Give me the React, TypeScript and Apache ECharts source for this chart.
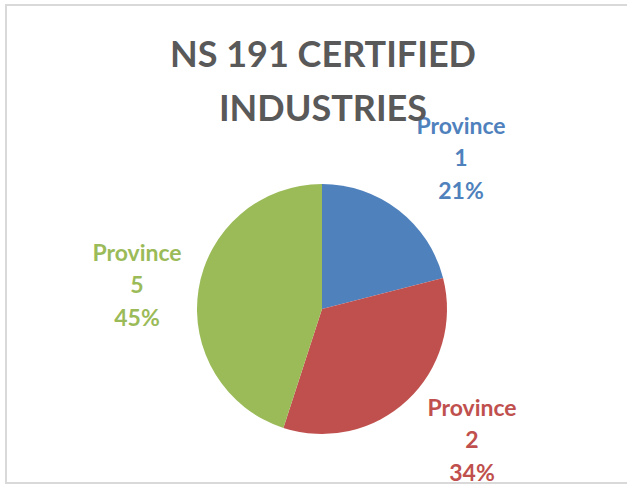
import React, { useEffect, useRef } from "react";
import * as echarts from "echarts";

const categories = ["Province 1", "Province 2", "Province 5"];
const values = [21, 34, 45];
const colors = ["#4F81BD", "#C0504D", "#9BBB59"];
const titleText = "NS 191 CERTIFIED\nINDUSTRIES";

// label anchor points (layout only)
const labelPos: [number, number][] = [
  [461, 157],
  [472, 439],
  [137, 284],
];

export default function App() {
  const ref = useRef<HTMLDivElement>(null);
  useEffect(() => {
    if (!ref.current) return;
    const chart = echarts.init(ref.current, null, { renderer: "svg" });
    chart.setOption({
      animation: false,
      backgroundColor: "#ffffff",
      title: {
        text: titleText,
        left: 318,
        textAlign: "center",
        top: 21,
        textStyle: {
          fontFamily: "Lato",
          fontWeight: "bold",
          fontSize: 36,
          lineHeight: 54,
          color: "#595959",
        },
      },
      graphic: [
        {
          type: "rect",
          shape: { x: 6, y: 5, width: 660, height: 478 },
          style: { fill: "none", stroke: "#D9D9D9", lineWidth: 2 },
          silent: true,
          z: -1,
        },
      ],
      series: [
        {
          type: "pie",
          center: [322, 309],
          radius: 125,
          startAngle: 90,
          clockwise: true,
          data: categories.map((c, i) => ({
            name: c,
            value: values[i],
            itemStyle: { color: colors[i] },
            label: { color: colors[i] },
          })),
          label: {
            show: true,
            position: "outside",
            formatter: (p: any) => {
              const parts = p.name.split(" ");
              return parts[0] + "\n" + parts[1] + "\n" + p.value + "%";
            },
            fontFamily: "Lato",
            fontWeight: "bold",
            fontSize: 23,
            lineHeight: 32.5,
            align: "center",
          },
          labelLine: { show: false },
          labelLayout: (params: any) => {
            const pos = labelPos[params.dataIndex];
            return {
              x: pos[0],
              y: pos[1],
              align: "center",
              verticalAlign: "middle",
            };
          },
          itemStyle: { borderWidth: 0 },
          emphasis: { disabled: true },
        },
      ],
    });
    return () => chart.dispose();
  }, []);
  return (
    <div
      ref={ref}
      style={{ position: "fixed", left: 0, top: 0, width: 627, height: 484 }}
    />
  );
}
